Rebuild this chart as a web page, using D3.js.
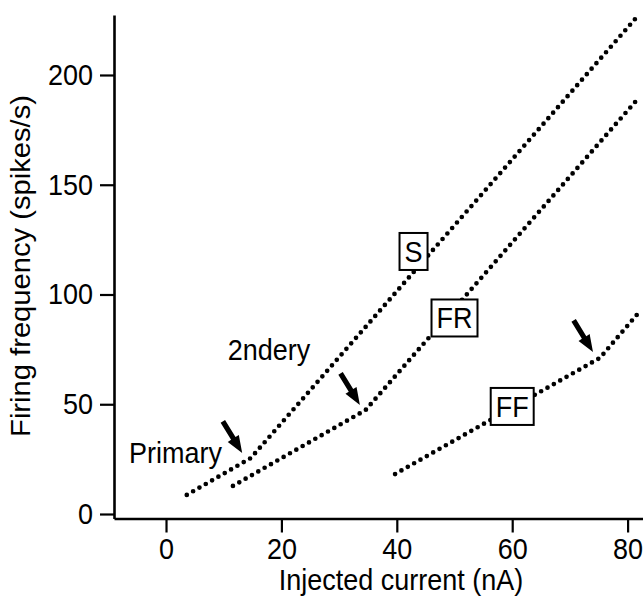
<!DOCTYPE html>
<html>
<head>
<meta charset="utf-8">
<script src="https://cdn.jsdelivr.net/npm/d3@7"></script>
<style>
  html, body { margin: 0; padding: 0; background: #fff; }
  svg { display: block; }
  text { font-family: "Liberation Sans", Arial, Helvetica, sans-serif; fill: #000; }
</style>
</head>
<body>
<svg id="chart" width="643" height="597"></svg>
<script>
// Firing frequency vs injected current for three motor unit types.
// Each curve: start of primary range, primary/secondary transition, end.
const sPoints  = [[3.6, 8.7], [14.7, 25.5], [81.9, 227.3]];
const frPoints = [[11.6, 12.8], [34.6, 47.4], [81.9, 189.5]];
const ffPoints = [[39.7, 18.2], [75.2, 71.1], [82.3, 92.9]];

// Boxed unit-type labels (centre in data units)
const unitNames   = ["S", "FR", "FF"];
const unitLabelAt = [[42.9, 119.6], [50.0, 89.3], [60.0, 49.0]];

// Arrow tips marking the primary -> secondary transitions
const arrowTips = [[13.2, 27.8], [33.6, 49.7], [74.0, 73.8]];

// Free text annotations
const noteTexts = ["Primary", "2ndery"];
const noteAt    = [[-6.4, 23.2], [10.7, 70.2]];

const xTicks = [0, 20, 40, 60, 80];
const yTicks = [0, 50, 100, 150, 200];

const plotLeft = 114, plotRight = 643, plotTop = 15, plotBottom = 518.5;
const fontSize = 27, stretch = 1.08;

const svg = d3.select("#chart");

const x = d3.scaleLinear().domain([-9.015, 82.669]).range([plotLeft, plotRight]);
const y = d3.scaleLinear().domain([-2.05, 227.33]).range([plotBottom, plotTop]);

// Axes
const xAxis = d3.axisBottom(x).tickValues(xTicks).tickSize(14).tickSizeOuter(0).tickPadding(6);
const yAxis = d3.axisLeft(y).tickValues(yTicks).tickSize(14).tickSizeOuter(0).tickPadding(7);

const gx = svg.append("g").attr("transform", `translate(0,${plotBottom})`).call(xAxis);
const gy = svg.append("g").attr("transform", `translate(${plotLeft},0)`).call(yAxis);

[gx, gy].forEach(g => {
  g.select(".domain").attr("stroke", "#000").attr("stroke-width", 2.6);
  g.selectAll(".tick line").attr("stroke", "#000").attr("stroke-width", 2.2);
  g.selectAll(".tick text")
    .attr("font-size", fontSize)
    .attr("font-family", "'Liberation Sans', Arial, sans-serif")
    .attr("fill", "#000");
});
// slightly taller glyphs
gx.selectAll(".tick text").each(function () {
  const t = d3.select(this);
  const yy = +t.attr("y");
  t.attr("y", yy / stretch).attr("transform", `scale(1,${stretch})`);
});
gy.selectAll(".tick text").attr("transform", `scale(1,${stretch})`);

// Axis titles
svg.append("text")
  .attr("transform", `translate(401,590) scale(1,${stretch})`)
  .attr("text-anchor", "middle")
  .attr("font-size", fontSize)
  .text("Injected current (nA)");

svg.append("text")
  .attr("transform", `translate(30,266) scale(1,${stretch}) rotate(-90)`)
  .attr("text-anchor", "middle")
  .attr("font-size", fontSize)
  .text("Firing frequency (spikes/s)");

// Dotted curves
const line = d3.line().x(d => x(d[0])).y(d => y(d[1]));
[sPoints, frPoints, ffPoints].forEach(pts => {
  svg.append("path")
    .attr("d", line(pts))
    .attr("fill", "none")
    .attr("stroke", "#000")
    .attr("stroke-width", 4.7)
    .attr("stroke-linecap", "round")
    .attr("stroke-dasharray", "0 7.3");
});

// Arrows (pointing down-right onto the transition points)
const arrowLen = 37, headLen = 17, headHalf = 6.5, shaftHalf = 2.6;
const ang = Math.atan2(31, 19);
arrowTips.forEach(tp => {
  const tx = x(tp[0]), ty = y(tp[1]);
  const ux = Math.cos(ang), uy = Math.sin(ang);
  const px = -uy, py = ux;
  const bx = tx - ux * headLen, by = ty - uy * headLen;
  const sx = tx - ux * arrowLen, sy = ty - uy * arrowLen;
  const p = [
    [tx, ty],
    [bx + px * headHalf, by + py * headHalf],
    [bx + px * shaftHalf, by + py * shaftHalf],
    [sx + px * shaftHalf, sy + py * shaftHalf],
    [sx - px * shaftHalf, sy - py * shaftHalf],
    [bx - px * shaftHalf, by - py * shaftHalf],
    [bx - px * headHalf, by - py * headHalf]
  ];
  svg.append("path")
    .attr("d", "M" + p.map(q => q.join(",")).join("L") + "Z")
    .attr("fill", "#000");
});

// Free text notes
noteTexts.forEach((t, i) => {
  svg.append("text")
    .attr("transform", `translate(${x(noteAt[i][0])},${y(noteAt[i][1])}) scale(1,${stretch})`)
    .attr("font-size", fontSize)
    .text(t);
});

// Boxed unit-type labels
unitNames.forEach((name, i) => {
  const cx = x(unitLabelAt[i][0]), cy = y(unitLabelAt[i][1]);
  const g = svg.append("g").attr("transform", `translate(${cx},${cy})`);
  const rect = g.append("rect").attr("fill", "#fff").attr("stroke", "#000").attr("stroke-width", 2);
  const txt = g.append("text")
    .attr("text-anchor", "middle")
    .attr("font-size", fontSize)
    .attr("transform", `scale(1,${stretch})`)
    .attr("y", fontSize * 0.716 / 2)
    .text(name);
  const bb = txt.node().getBBox();
  const w = bb.width + 10, h = 37;
  rect.attr("x", -w / 2).attr("y", -h / 2).attr("width", w).attr("height", h);
});
</script>
</body>
</html>
